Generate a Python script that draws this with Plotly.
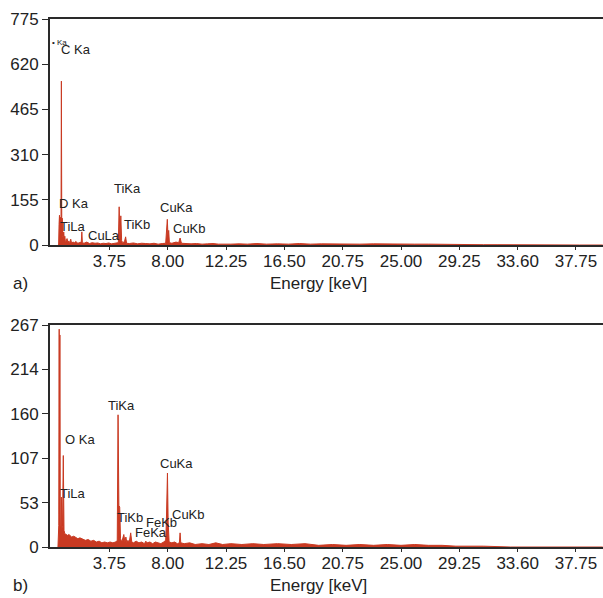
import plotly.graph_objects as go

# ---------------- data ----------------
tick_vals = [3.75, 8.0, 12.25, 16.5, 20.75, 25.0, 29.25, 33.5, 37.75]
tick_text = ["3.75", "8.00", "12.25", "16.50", "20.75", "25.00", "29.25", "33.60", "37.75"]

ya_ticks = [0, 155, 310, 465, 620, 775]
yb_ticks = [0, 53, 107, 160, 214, 267]

# spectrum a) : energy (keV) and counts
energy_a = [0.00, 0.05, 0.08, 0.11, 0.14, 0.18, 0.22, 0.25, 0.28, 0.31, 0.34, 0.38, 0.42, 0.46,
            0.50, 0.54, 0.60, 0.66, 0.72, 0.78, 0.86, 0.93, 0.99, 1.10, 1.20, 1.30, 1.45, 1.60,
            1.70, 1.74, 1.78, 1.90, 2.10, 2.30, 2.50, 2.70, 2.90, 3.10, 3.30, 3.50, 3.70, 3.90,
            4.10, 4.30, 4.40, 4.46, 4.52, 4.58, 4.64, 4.72, 4.85, 4.93, 5.00, 5.20, 5.50, 5.80,
            6.10, 6.40, 6.70, 7.00, 7.30, 7.60, 7.85, 7.97, 8.02, 8.07, 8.12, 8.30, 8.60, 8.80,
            8.90, 9.00, 9.30, 9.70, 10.10, 10.50, 10.90, 11.30, 11.70, 12.10, 12.60, 13.20, 13.80,
            14.50, 15.20, 16.00, 16.80, 17.60, 18.40, 19.20, 20.00, 21.00, 22.00, 23.00, 24.00,
            25.00, 26.00, 27.00, 28.00, 29.00, 30.00, 31.00, 32.00, 34.00, 36.00, 38.00, 39.70]
counts_a = [0, 0, 70, 102, 30, 95, 25, 562, 30, 92, 30, 25, 45, 20,
            30, 12, 14, 22, 10, 14, 8, 20, 7, 10, 8, 12, 6, 8,
            10, 45, 8, 6, 10, 5, 8, 6, 7, 4, 6, 5, 7, 4,
            5, 6, 8, 131, 20, 100, 15, 8, 12, 28, 6, 5, 7, 4,
            6, 5, 4, 6, 3, 5, 6, 88, 30, 50, 8, 6, 10, 8,
            24, 6, 5, 4, 5, 3, 4, 5, 3, 4, 3, 4, 3,
            5, 3, 4, 3, 5, 3, 4, 3, 4, 3, 4, 3,
            4, 3, 3, 2, 3, 2, 1, 1, 0, 0, 0, 0]

# spectrum b)
energy_b = [0.00, 0.03, 0.06, 0.09, 0.11, 0.14, 0.17, 0.21, 0.25, 0.29, 0.33, 0.39, 0.44, 0.50,
            0.60, 0.70, 0.80, 0.90, 1.00, 1.15, 1.30, 1.45, 1.60, 1.80, 2.00, 2.20, 2.40, 2.60,
            2.80, 3.00, 3.20, 3.40, 3.60, 3.80, 4.00, 4.20, 4.32, 4.38, 4.44, 4.50, 4.56, 4.65,
            4.80, 4.88, 4.95, 5.02, 5.10, 5.20, 5.30, 5.38, 5.50, 5.70, 5.90, 6.10, 6.30, 6.40,
            6.50, 6.70, 6.90, 7.10, 7.30, 7.50, 7.70, 7.85, 7.90, 7.93, 7.98, 8.03, 8.10, 8.30,
            8.50, 8.70, 8.85, 8.90, 8.95, 9.20, 9.60, 10.00, 10.50, 11.00, 11.50, 12.00, 12.60,
            13.40, 14.20, 15.00, 16.00, 17.00, 18.00, 19.00, 20.00, 21.00, 22.00, 23.00, 24.00,
            25.00, 26.00, 27.00, 28.00, 29.00, 30.00, 31.00, 33.00, 36.00, 39.70]
counts_b = [0, 22, 26, 262, 40, 255, 25, 24, 60, 22, 25, 110, 20, 16,
            15, 14, 15, 13, 12, 13, 11, 10, 11, 9, 8, 9, 7, 8,
            6, 7, 5, 6, 5, 6, 5, 6, 8, 159, 50, 48, 10, 6,
            15, 6, 12, 5, 8, 6, 17, 6, 5, 7, 5, 6, 4, 7,
            5, 6, 4, 6, 5, 4, 6, 8, 30, 73, 89, 30, 6, 5,
            6, 4, 5, 17, 5, 4, 5, 3, 4, 3, 5, 3, 4,
            3, 4, 3, 4, 3, 4, 2, 3, 2, 3, 2, 3,
            2, 3, 2, 2, 1, 1, 1, 0, 0, 0, 0]

# peak labels: (text, energy of label left edge, count at label centre)
labels_a = [("C Ka", 0.10, 669), ("D Ka", -0.07, 141), ("TiLa", 0.0, 65), ("CuLa", 2.04, 34),
            ("TiKa", 3.94, 195), ("TiKb", 4.66, 72), ("CuKa", 7.29, 130), ("CuKb", 8.24, 55)]
labels_b = [("TiKa", 3.50, 170), ("O Ka", 0.36, 129), ("CuKa", 7.29, 101), ("TiLa", 0.0, 64),
            ("TiKb", 4.15, 35), ("FeKb", 6.27, 29), ("FeKa", 5.47, 17), ("CuKb", 8.16, 38.5)]

# ---------------- figure ----------------
RED = "#c93a22"
FONT = "Liberation Sans, Arial, sans-serif"
W, H = 603, 598

fig = go.Figure()
fig.add_trace(go.Scatter(x=energy_a, y=counts_a, mode="lines", line=dict(color=RED, width=1),
                         fill="tozeroy", fillcolor=RED, xaxis="x", yaxis="y", hoverinfo="skip"))
fig.add_trace(go.Scatter(x=energy_b, y=counts_b, mode="lines", line=dict(color=RED, width=1),
                         fill="tozeroy", fillcolor=RED, xaxis="x2", yaxis="y2", hoverinfo="skip"))

x0 = 50 / W
dom_a = [1 - 245 / H, 1 - 19 / H]
dom_b = [1 - 547 / H, 1 - 325 / H]
xrange = [-0.58, 39.72]

common = dict(showline=True, linecolor="#2a2a2a", linewidth=2, showgrid=False, zeroline=False,
              ticks="outside", tickwidth=1, tickcolor="#2a2a2a", automargin=False,
              tickfont=dict(family=FONT, size=17, color="#222"))
xcommon = dict(common, ticklen=3, ticklabelstandoff=-3, tickvals=tick_vals, ticktext=tick_text,
               range=xrange, domain=[x0, 1], mirror=True)
ycommon = dict(common, ticklen=6)

fig.update_layout(
    template="none",
    width=W, height=H, margin=dict(l=0, r=0, t=0, b=0, pad=0, autoexpand=False),
    paper_bgcolor="white", plot_bgcolor="white", showlegend=False,
    xaxis=dict(xcommon, anchor="y"),
    yaxis=dict(ycommon, domain=dom_a, range=[0, 775], anchor="x", tickvals=ya_ticks),
    xaxis2=dict(xcommon, anchor="y2"),
    yaxis2=dict(ycommon, domain=dom_b, range=[0, 267], anchor="x2", tickvals=yb_ticks),
)

ann = []
for txt, ex, cy in labels_a:
    ann.append(dict(x=ex, y=cy, xref="x", yref="y", text=txt, showarrow=False, xanchor="left",
                    yanchor="middle", font=dict(family=FONT, size=13, color="#222")))
for txt, ex, cy in labels_b:
    ann.append(dict(x=ex, y=cy, xref="x2", yref="y2", text=txt, showarrow=False, xanchor="left",
                    yanchor="middle", font=dict(family=FONT, size=13, color="#222")))
# small overlapped label at top of panel a
ann.append(dict(x=-0.55, y=696, xref="x", yref="y", text="• Ka", showarrow=False, xanchor="left",
                yanchor="middle", font=dict(family=FONT, size=8, color="#222")))
for cy, letter in [(283, "a)"), (585, "b)")]:
    ann.append(dict(x=318 / W, y=1 - cy / H, xref="paper", yref="paper", text="Energy [keV]",
                    showarrow=False, xanchor="center", yanchor="middle",
                    font=dict(family=FONT, size=17, color="#222")))
    ann.append(dict(x=11 / W, y=1 - cy / H, xref="paper", yref="paper", text=letter,
                    showarrow=False, xanchor="left", yanchor="middle",
                    font=dict(family=FONT, size=17, color="#222")))
fig.update_layout(annotations=ann)

fig.write_html("out.html")
